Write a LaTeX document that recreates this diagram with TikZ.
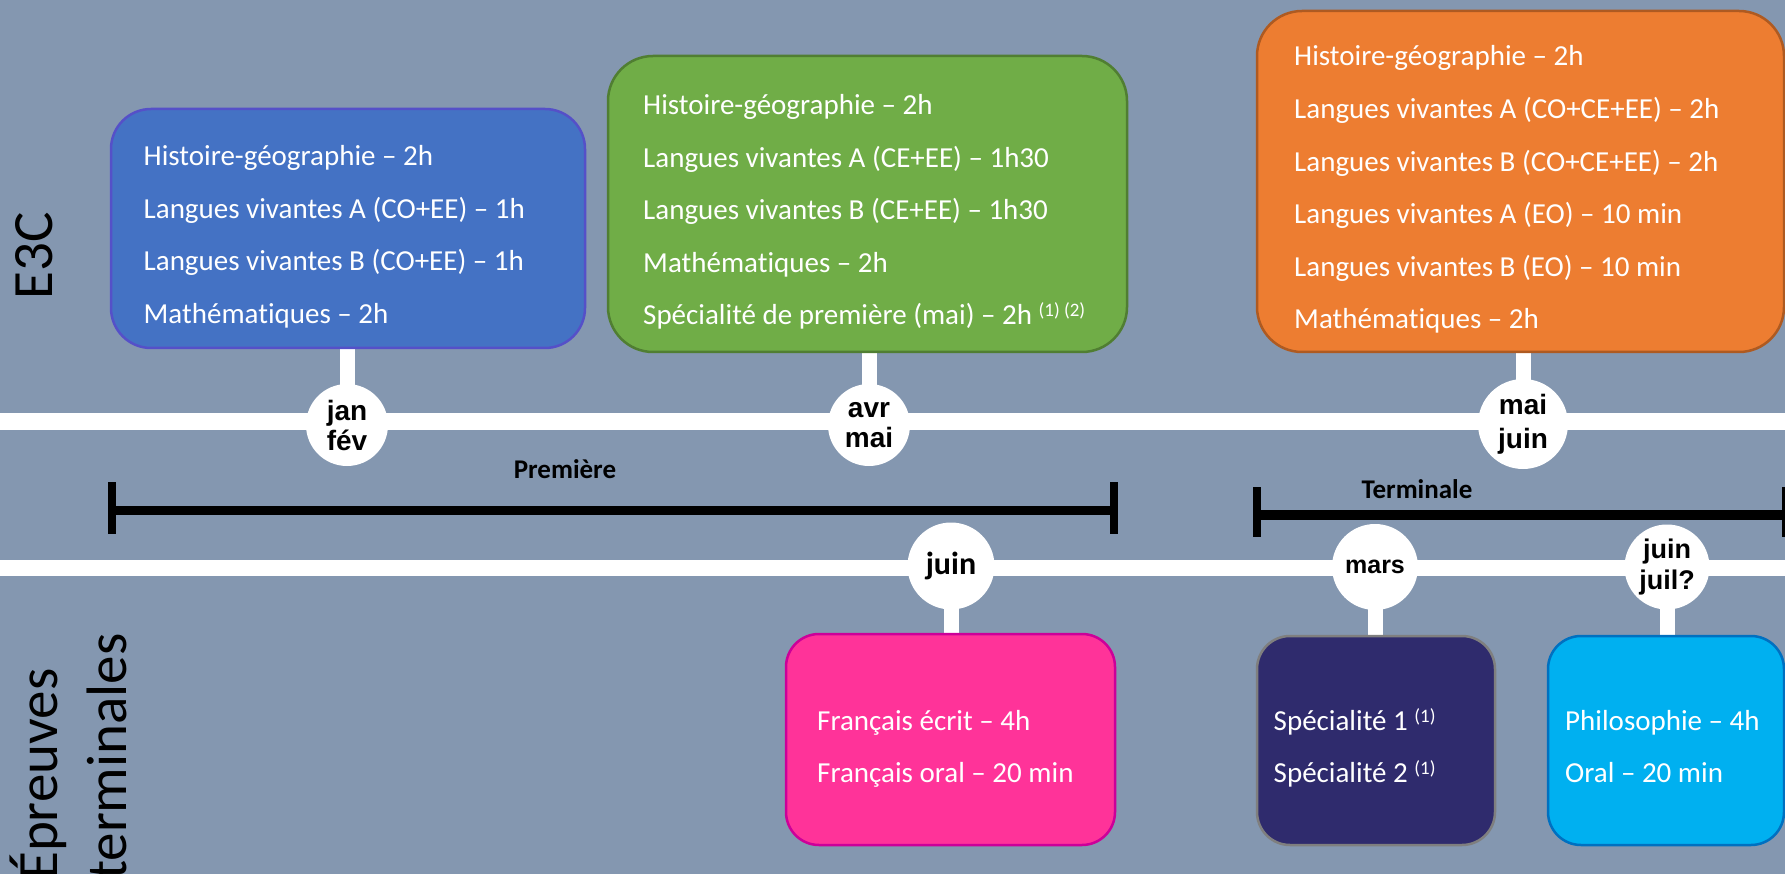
\documentclass[tikz,border=0pt]{standalone}
\usepackage{fontspec}
\setmainfont{Carlito}[Ligatures=NoCommon]
\newfontfamily\arialf{Liberation Sans}
\definecolor{bgc}{HTML}{8497B0}
\definecolor{blueF}{HTML}{4472C4}
\definecolor{blueD}{RGB}{85,80,200}
\definecolor{greenF}{HTML}{70AD47}
\definecolor{greenD}{HTML}{507E32}
\definecolor{orangeF}{HTML}{ED7D31}
\definecolor{orangeD}{HTML}{AE5A21}
\definecolor{pinkF}{HTML}{FF3399}
\definecolor{pinkD}{HTML}{CC0099}
\definecolor{navyF}{HTML}{2F2B6D}
\definecolor{navyD}{HTML}{7F7F7F}
\definecolor{cyanF}{HTML}{00B0F0}
\definecolor{cyanD}{HTML}{0070C0}
\newcommand{\supn}[1]{\raisebox{8pt}{\fontsize{19}{19}\selectfont #1}}
\pgfdeclarelayer{bgl}
\pgfsetlayers{bgl,main}
\begin{document}
\begin{tikzpicture}[x=1pt,y=-1pt,
  box/.style={rectangle, draw, line width=2.5pt, inner sep=0pt},
  boxline/.style={anchor=base west, inner sep=0pt, text=white, font=\fontsize{29}{35}\selectfont},
  month/.style={circle, fill=white, inner sep=0pt, align=center, text=black, font=\arialf\bfseries\fontsize{28}{30}\selectfont},
  stembar/.style={white, line width=15pt},
  trackline/.style={white, line width=17pt},
  brk/.style={black, line width=9pt},
  brkbar/.style={black, line width=8pt},
  period/.style={anchor=base, inner sep=0pt, font=\bfseries\fontsize{27}{30}\selectfont},
  side/.style={rotate=90, inner sep=0pt, text=black, font=\fontsize{57}{69}\selectfont}]
\useasboundingbox (0,0) rectangle (1785,874);

% boxes
\node[box, fill=blueF, draw=blueD, rounded corners=40pt, minimum width=474pt, minimum height=239pt] (blue) at (348,228.5) {};
\node[box, fill=greenF, draw=greenD, rounded corners=45pt, minimum width=519pt, minimum height=296pt] (green) at (867.5,204) {};
\node[box, fill=orangeF, draw=orangeD, rounded corners=45pt, minimum width=527pt, minimum height=341pt] (orange) at (1520.5,181.5) {};
\node[box, fill=pinkF, draw=pinkD, rounded corners=33pt, minimum width=329pt, minimum height=211pt] (pink) at (950.5,739.5) {};
\node[box, fill=navyF, draw=navyD, rounded corners=33pt, minimum width=238pt, minimum height=209pt] (navy) at (1376,740.5) {};
\node[box, fill=cyanF, draw=cyanD, rounded corners=33pt, minimum width=236pt, minimum height=209pt] (cyan) at (1666,740.5) {};

% box texts
\node[boxline] (b1) at (143.5,166) {Histoire-géographie – 2h};
\node[boxline] (b2) at (143.5,218.5) {Langues vivantes A (CO+EE) – 1h};
\node[boxline] (b3) at (143.5,271) {Langues vivantes B (CO+EE) – 1h};
\node[boxline] (b4) at (143.5,323.5) {Mathématiques – 2h};

\node[boxline] (g1) at (643,115) {Histoire-géographie – 2h};
\node[boxline] (g2) at (643,167.5) {Langues vivantes A (CE+EE) – 1h30};
\node[boxline] (g3) at (643,220) {Langues vivantes B (CE+EE) – 1h30};
\node[boxline] (g4) at (643,272.5) {Mathématiques – 2h};
\node[boxline] (g5) at (643,325) {Spécialité de première (mai) – 2h \supn{(1) (2)}};

\node[boxline] (o1) at (1294,66) {Histoire-géographie – 2h};
\node[boxline] (o2) at (1294,118.6) {Langues vivantes A (CO+CE+EE) – 2h};
\node[boxline] (o3) at (1294,171.2) {Langues vivantes B (CO+CE+EE) – 2h};
\node[boxline] (o4) at (1294,223.8) {Langues vivantes A (EO) – 10 min};
\node[boxline] (o5) at (1294,276.4) {Langues vivantes B (EO) – 10 min};
\node[boxline] (o6) at (1294,329) {Mathématiques – 2h};

\node[boxline] (p1) at (817,730) {Français écrit – 4h};
\node[boxline] (p2) at (817,782) {Français oral – 20 min};

\node[boxline] (n1) at (1273.5,730) {Spécialité 1 \supn{(1)}};
\node[boxline] (n2) at (1273.5,782) {Spécialité 2 \supn{(1)}};

\node[boxline] (c1) at (1565,730) {Philosophie – 4h};
\node[boxline] (c2) at (1565,782) {Oral – 20 min};

% month circles
\node[month, minimum size=82pt] (jf) at (347,425) {jan\\fév};
\node[month, minimum size=82pt] (am) at (869,425) {avr\\mai};
\node[month, minimum size=90pt, font=\arialf\bfseries\fontsize{28}{34}\selectfont] (mj) at (1523,424) {mai\\juin};
\node[month, minimum size=87pt, font=\bfseries\fontsize{32}{36}\selectfont] (ju) at (951,566) {juin};
\node[month, minimum size=86pt, font=\arialf\bfseries\fontsize{25}{30}\selectfont] (ma) at (1375,567) {mars};
\node[month, minimum size=85pt, font=\arialf\bfseries\fontsize{27}{31}\selectfont] (jj) at (1667,567) {juin\\juil?};

% brackets
\coordinate (pa) at (111.5,510.5);
\coordinate (pb) at (1114,510.5);
\draw[brk] (pa) -- (pb);
\draw[brkbar] (111.5,482) -- (111.5,534);
\draw[brkbar] (1114,482) -- (1114,534);
\node[period] (prem) at (565,478) {Première};

\coordinate (ta) at (1257,515);
\coordinate (tb) at (1786,515);
\draw[brk, line width=10pt] (ta) -- (tb);
\draw[brkbar] (1257,487) -- (1257,537);
\draw[brkbar] (1786,487) -- (1786,537);
\node[period] (term) at (1417,498) {Terminale};

% side labels
\node[side] (e3c) at (34,256) {E3C};
\node[side, anchor=base west] (ep1) at (57,880) {Épreuves};
\node[side, anchor=base west] (ep2) at (126,880) {terminales};

% background layer
\begin{pgfonlayer}{bgl}
\fill[bgc] (0,0) rectangle (1785,874);
\draw[trackline] (0,421.5) -- (1785,421.5);
\draw[trackline, line width=16pt] (0,568) -- (1785,568);
\draw[stembar] (jf.center |- blue.south) -- (jf.center);
\draw[stembar] (am.center |- green.south) -- (am.center);
\draw[stembar] (mj.center |- orange.south) -- (mj.center);
\draw[stembar] (ju.center |- pink.north) -- (ju.center);
\draw[stembar] (ma.center |- navy.north) -- (ma.center);
\draw[stembar] (jj.center |- cyan.north) -- (jj.center);
\end{pgfonlayer}
\end{tikzpicture}
\end{document}
